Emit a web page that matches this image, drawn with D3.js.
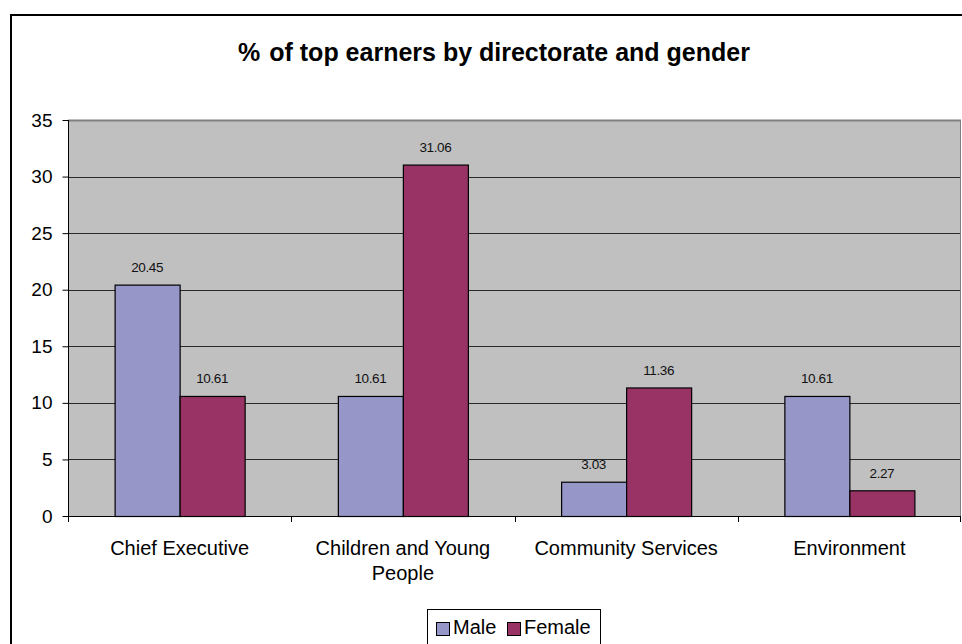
<!DOCTYPE html>
<html>
<head>
<meta charset="utf-8">
<script src="https://cdn.jsdelivr.net/npm/d3@7"></script>
<style>
  html, body { margin: 0; padding: 0; background: #fff; }
  svg { display: block; font-family: "Liberation Sans", Arial, sans-serif; }
</style>
</head>
<body>
<svg id="chart" width="962" height="644"></svg>
<script>
// Directorates and the share of top earners in each, by gender
const categories = ["Chief Executive", "Children and Young People", "Community Services", "Environment"];
const categoryLines = [["Chief Executive"], ["Children and Young", "People"], ["Community Services"], ["Environment"]];
const seriesNames = ["Male", "Female"];
const maleValues = [20.45, 10.61, 3.03, 10.61];
const femaleValues = [10.61, 31.06, 11.36, 2.27];
const yTicks = [0, 5, 10, 15, 20, 25, 30, 35];

const colors = { Male: "#9696c8", Female: "#993366" };

const svg = d3.select("#chart");

// outer chart frame
svg.append("rect")
  .attr("x", 11).attr("y", 15).attr("width", 960).attr("height", 640)
  .attr("fill", "#fff").attr("stroke", "#000").attr("stroke-width", 2);

// title
const title = svg.append("text")
  .attr("x", 494).attr("y", 61)
  .attr("text-anchor", "middle")
  .attr("font-size", 25).attr("font-weight", "bold")
  .attr("fill", "#000");
title.append("tspan").text("%");
title.append("tspan").attr("dx", 2).text(" of top earners by directorate and gender");

const plot = { left: 68, top: 120, right: 961, bottom: 516 };

const x0 = d3.scaleBand().domain(categories).range([plot.left, plot.right]).paddingInner(0).paddingOuter(0);
const x1 = d3.scaleBand().domain(seriesNames).range([0, x0.bandwidth()]).paddingInner(0).paddingOuter(0.717);
const y = d3.scaleLinear().domain([0, 35]).range([plot.bottom, plot.top]);

// plot background
svg.append("rect")
  .attr("x", plot.left).attr("y", plot.top)
  .attr("width", plot.right - plot.left).attr("height", plot.bottom - plot.top)
  .attr("fill", "#c0c0c0");

// horizontal gridlines
svg.append("g").selectAll("line")
  .data(yTicks.filter(t => t > 0 && t < 35))
  .join("line")
  .attr("x1", plot.left).attr("x2", plot.right)
  .attr("y1", d => Math.round(y(d)) + 0.5).attr("y2", d => Math.round(y(d)) + 0.5)
  .attr("stroke", "#2a2a2a").attr("stroke-width", 1);

// top edge of plot area
svg.append("line")
  .attr("x1", plot.left).attr("x2", plot.right)
  .attr("y1", plot.top + 0.5).attr("y2", plot.top + 0.5)
  .attr("stroke", "#808080").attr("stroke-width", 2);
// right edge of plot area
svg.append("line")
  .attr("x1", plot.right - 0.5).attr("x2", plot.right - 0.5)
  .attr("y1", plot.top).attr("y2", plot.bottom)
  .attr("stroke", "#808080").attr("stroke-width", 1);

// bars
const rows = categories.map((c, i) => ({ cat: c, vals: [
  { name: "Male", v: maleValues[i] },
  { name: "Female", v: femaleValues[i] }
]}));

const groups = svg.append("g").selectAll("g")
  .data(rows).join("g")
  .attr("transform", d => `translate(${x0(d.cat)},0)`);

groups.selectAll("rect")
  .data(d => d.vals).join("rect")
  .attr("x", d => x1(d.name) + 0.5)
  .attr("y", d => y(d.v) + 0.5)
  .attr("width", x1.bandwidth())
  .attr("height", d => y(0) - y(d.v))
  .attr("fill", d => colors[d.name])
  .attr("stroke", "#000").attr("stroke-width", 1.2);

groups.selectAll("text")
  .data(d => d.vals).join("text")
  .attr("x", d => x1(d.name) + x1.bandwidth() / 2)
  .attr("y", d => y(d.v) - 12.5)
  .attr("text-anchor", "middle")
  .attr("font-size", 13.5).attr("letter-spacing", -0.4)
  .attr("fill", "#111")
  .text(d => d.v.toFixed(2));

// y axis
const yAxis = d3.axisLeft(y).tickValues(yTicks).tickSize(6).tickPadding(10).tickFormat(d3.format("d"));
const gy = svg.append("g").attr("transform", `translate(${plot.left + 0.5},0)`).call(yAxis);
gy.select(".domain").attr("d", `M0,${plot.top}V${plot.bottom + 6}`).attr("stroke", "#000");
gy.selectAll(".tick line").attr("stroke", "#000");
gy.selectAll(".tick text").attr("font-size", 19).attr("fill", "#000").attr("font-family", "Liberation Sans, Arial, sans-serif");

// x axis line with ticks at category boundaries
svg.append("line")
  .attr("x1", plot.left).attr("x2", plot.right)
  .attr("y1", plot.bottom + 0.5).attr("y2", plot.bottom + 0.5)
  .attr("stroke", "#000");
const boundaries = categories.map(c => x0(c)).concat([plot.right - 1]);
svg.append("g").selectAll("line")
  .data(boundaries).join("line")
  .attr("x1", d => Math.round(d) + 0.5).attr("x2", d => Math.round(d) + 0.5)
  .attr("y1", plot.bottom).attr("y2", plot.bottom + 6)
  .attr("stroke", "#000");

// category labels
const catLabels = svg.append("g").selectAll("text")
  .data(categories).join("text")
  .attr("x", d => x0(d) + x0.bandwidth() / 2)
  .attr("y", 555)
  .attr("text-anchor", "middle")
  .attr("font-size", 20).attr("fill", "#000");
catLabels.each(function(d, i) {
  const t = d3.select(this);
  categoryLines[i].forEach((line, j) => {
    t.append("tspan")
      .attr("x", x0(d) + x0.bandwidth() / 2)
      .attr("dy", j === 0 ? 0 : 25)
      .text(line);
  });
});

// legend
const legend = svg.append("g");
legend.append("rect")
  .attr("x", 427.5).attr("y", 609.5).attr("width", 173).attr("height", 44)
  .attr("fill", "#fff").attr("stroke", "#000").attr("stroke-width", 1);
const legendItems = [
  { name: "Male", sx: 436, tx: 453 },
  { name: "Female", sx: 507, tx: 524 }
];
legendItems.forEach(it => {
  legend.append("rect")
    .attr("x", it.sx + 0.5).attr("y", 622.5).attr("width", 13).attr("height", 13)
    .attr("fill", colors[it.name]).attr("stroke", "#000");
  legend.append("text")
    .attr("x", it.tx).attr("y", 634)
    .attr("font-size", 20).attr("fill", "#000")
    .text(it.name);
});
</script>
</body>
</html>
